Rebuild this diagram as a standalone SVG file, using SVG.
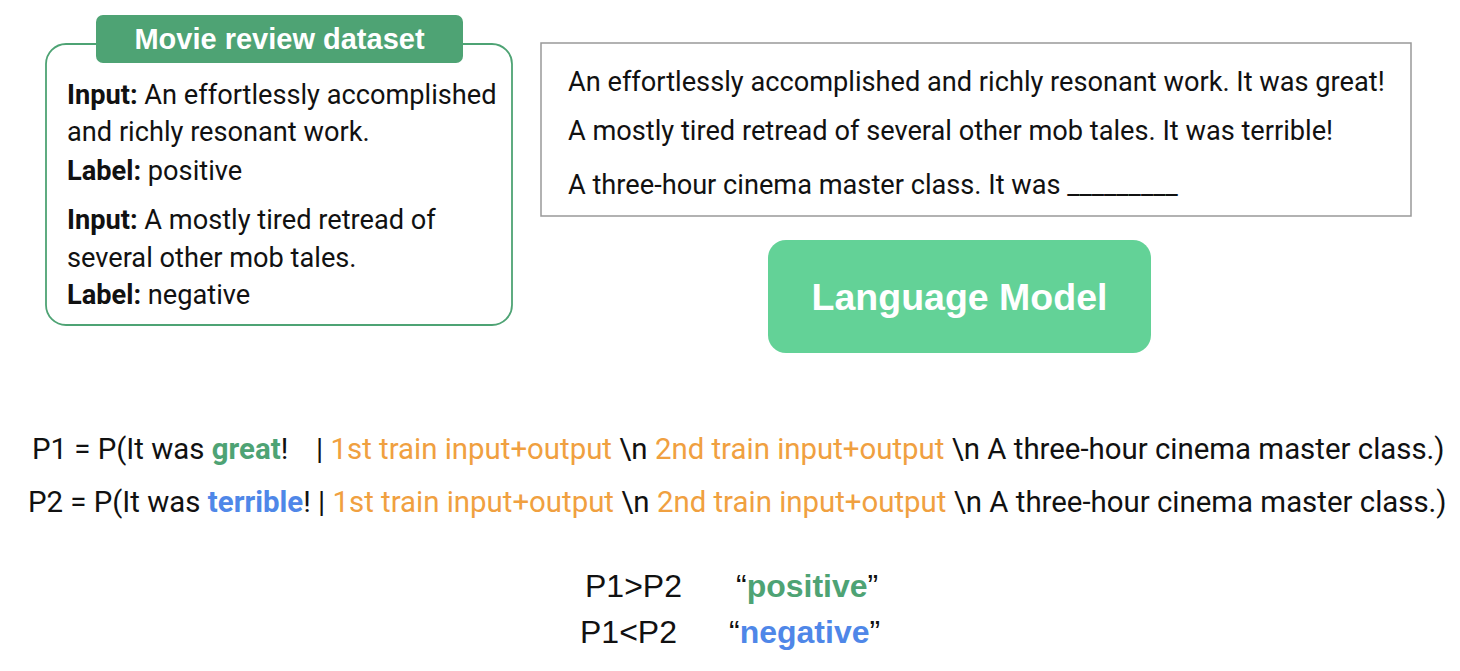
<svg xmlns="http://www.w3.org/2000/svg" width="1460" height="671" viewBox="0 0 1460 671">
<style>
text{font-family:Roboto,"Liberation Sans",sans-serif;fill:#111;}
.b{font-weight:bold;}
.a{font-family:"Liberation Sans",Arial,sans-serif;}
.t{font-size:27.2px;}
.t2{font-size:27.2px;}
.g{fill:#4ea374;font-weight:bold;}
.bl{fill:#4f87e8;font-weight:bold;}
.o{fill:#f0a040;}
.eq{font-size:29.4px;}
.res{font-size:32px;}
</style>
<rect width="1460" height="671" fill="#fff"/>
<g id="dataset">
<rect x="46" y="44" width="466" height="281" rx="20" fill="#fff" stroke="#4ea374" stroke-width="1.8"/>
<rect x="96" y="15" width="367" height="48" rx="7" fill="#4ea374"/>
<text x="279.5" y="49" text-anchor="middle" class="a b" style="font-size:29px;fill:#fff">Movie review dataset</text>
<text x="67" y="104" class="t"><tspan class="b">Input:</tspan> An effortlessly accomplished</text>
<text x="67" y="141" class="t">and richly resonant work.</text>
<text x="67" y="180" class="t"><tspan class="b">Label:</tspan> positive</text>
<text x="67" y="229" class="t"><tspan class="b">Input:</tspan> A mostly tired retread of</text>
<text x="67" y="267" class="t">several other mob tales.</text>
<text x="67" y="304" class="t"><tspan class="b">Label:</tspan> negative</text>
</g>
<g id="prompt">
<rect x="541" y="43" width="870" height="173" fill="#fff" stroke="#999" stroke-width="1.5"/>
<text x="568" y="91" class="t2">An effortlessly accomplished and richly resonant work. It was great!</text>
<text x="568" y="140" class="t2">A mostly tired retread of several other mob tales. It was terrible!</text>
<text x="568" y="194" class="t2">A three-hour cinema master class. It was _________</text>
</g>
<g id="lm">
<rect x="768" y="240" width="383" height="113" rx="18" fill="#63d297"/>
<text x="959.5" y="310" text-anchor="middle" class="a b" style="font-size:37.5px;fill:#fff">Language Model</text>
</g>
<g id="connectors"></g>
<g id="equations">
<text x="32" y="459" class="eq">P1 = P(It was <tspan class="g">great</tspan>!<tspan x="316">| </tspan><tspan class="o">1st train input+output</tspan> \n <tspan class="o">2nd train input+output</tspan> \n A three-hour cinema master class.)</text>
<text x="28" y="512" class="eq">P2 = P(It was <tspan class="bl">terrible</tspan>! | <tspan class="o">1st train input+output</tspan> \n <tspan class="o">2nd train input+output</tspan> \n A three-hour cinema master class.)</text>
</g>
<g id="results">
<text x="585" y="597" class="a res">P1&gt;P2</text>
<text x="736" y="597" class="a res">“<tspan class="g">positive</tspan>”</text>
<text x="580" y="643" class="a res">P1&lt;P2</text>
<text x="729" y="643" class="a res">“<tspan class="bl">negative</tspan>”</text>
</g>
</svg>
